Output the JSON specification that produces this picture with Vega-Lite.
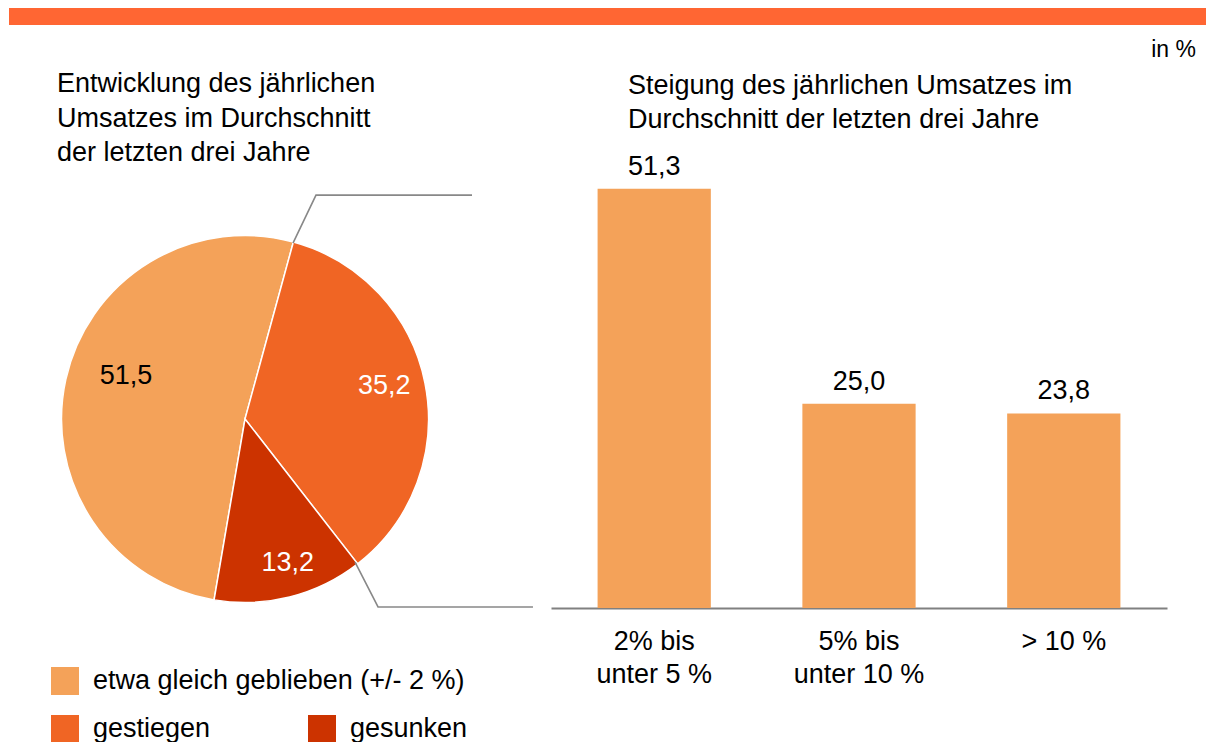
{
  "$schema": "https://vega.github.io/schema/vega-lite/v6.json",
  "background": "white",
  "padding": {"left": 9, "top": 8, "right": 0, "bottom": 0},
  "bounds": "flush",
  "spacing": 140,
  "config": {
    "font": "Liberation Sans",
    "view": {"stroke": null},
    "locale": {"number": {"decimal": ",", "thousands": ".", "grouping": [3], "currency": ["", " €"]}},
    "title": {"fontWeight": "normal", "color": "#000000", "font": "Liberation Sans"},
    "legend": {"labelFont": "Liberation Sans", "labelColor": "#000000"}
  },
  "vconcat": [
    {
      "width": 1197,
      "height": 17,
      "view": {"fill": "#FF6633", "stroke": null},
      "data": {"values": [{}]},
      "mark": {"type": "text", "text": ""},
      "encoding": {},
      "title": {"text": "in %", "orient": "bottom", "anchor": "end", "frame": "group", "offset": 14, "dx": -10, "fontSize": 23}
    },
    {
      "bounds": "flush",
      "spacing": 70,
      "hconcat": [
        {
          "width": 472,
          "height": 508,
          "title": {
            "text": ["Entwicklung des jährlichen", "Umsatzes im Durchschnitt", "der letzten drei Jahre"],
            "anchor": "start", "frame": "group", "dx": 48, "offset": -2, "fontSize": 27, "lineHeight": 34.5
          },
          "data": {"values": [
            {"cat": "etwa gleich geblieben (+/- 2 %)", "pct": 51.5},
            {"cat": "gestiegen", "pct": 35.2},
            {"cat": "gesunken", "pct": 13.2}
          ]},
          "layer": [
            {
              "mark": {"type": "arc", "outerRadius": 183.5, "stroke": "white", "strokeWidth": 1.5},
              "encoding": {
                "theta": {"field": "pct", "type": "quantitative", "stack": true, "scale": {"range": [3.311, 9.594]}},
                "order": {"field": "cat"},
                "color": {
                  "field": "cat", "type": "nominal",
                  "scale": {"domain": ["etwa gleich geblieben (+/- 2 %)", "gestiegen", "gesunken"], "range": ["#F4A259", "#F06524", "#CC3300"]},
                  "legend": {
                    "values": ["etwa gleich geblieben (+/- 2 %)"],
                    "orient": "none", "legendX": 42, "legendY": 659, "title": null,
                    "symbolType": "square", "symbolSize": 784, "symbolStrokeWidth": 0, "symbolOpacity": 1,
                    "labelFontSize": 27, "labelOffset": 14, "labelLimit": 600
                  }
                }
              }
            },
            {
              "transform": [{"filter": "datum.cat !== 'etwa gleich geblieben (+/- 2 %)'"}],
              "mark": {"type": "arc", "opacity": 0},
              "encoding": {
                "theta": {"field": "pct", "type": "quantitative", "stack": true},
                "order": {"field": "cat"},
                "fill": {
                  "field": "cat", "type": "nominal",
                  "scale": {"domain": ["gestiegen", "gesunken"], "range": ["#F06524", "#CC3300"]},
                  "legend": {
                    "orient": "none", "legendX": 42, "legendY": 707, "title": null, "direction": "horizontal",
                    "symbolType": "square", "symbolSize": 784, "symbolStrokeWidth": 0, "symbolOpacity": 1,
                    "labelFontSize": 27, "labelOffset": 14, "labelLimit": 600, "columnPadding": 97
                  }
                }
              }
            },
            {
              "mark": {"type": "text", "radius": 126, "dx": 4, "dy": -16, "fontSize": 27, "color": "#000000"},
              "encoding": {
                "theta": {"field": "pct", "type": "quantitative", "stack": true},
                "order": {"field": "cat"},
                "detail": {"field": "cat"},
                "text": {"condition": {"test": "datum.cat === 'etwa gleich geblieben (+/- 2 %)'", "field": "pct", "type": "quantitative", "format": ".1f"}, "value": ""}
              }
            },
            {
              "mark": {"type": "text", "radius": 143, "dx": -1, "dy": -5, "fontSize": 27, "color": "#FFFFFF"},
              "encoding": {
                "theta": {"field": "pct", "type": "quantitative", "stack": true},
                "order": {"field": "cat"},
                "detail": {"field": "cat"},
                "text": {"condition": {"test": "datum.cat === 'gestiegen'", "field": "pct", "type": "quantitative", "format": ".1f"}, "value": ""}
              }
            },
            {
              "mark": {"type": "text", "radius": 151, "dx": 6, "dy": -2, "fontSize": 27, "color": "#FFFFFF"},
              "encoding": {
                "theta": {"field": "pct", "type": "quantitative", "stack": true},
                "order": {"field": "cat"},
                "detail": {"field": "cat"},
                "text": {"condition": {"test": "datum.cat === 'gesunken'", "field": "pct", "type": "quantitative", "format": ".1f"}, "value": ""}
              }
            },
            {
              "data": {"values": [
                {"seg": "oben", "i": 0, "x": 0.263, "y": 0.964},
                {"seg": "oben", "i": 1, "x": 0.389, "y": 1.227},
                {"seg": "oben", "i": 2, "x": 1.244, "y": 1.227},
                {"seg": "unten", "i": 0, "x": 0.603, "y": -0.784},
                {"seg": "unten", "i": 1, "x": 0.729, "y": -1.03},
                {"seg": "unten", "i": 2, "x": 1.578, "y": -1.03}
              ]},
              "mark": {"type": "line", "color": "#888888", "strokeWidth": 1.6, "clip": false},
              "encoding": {
                "x": {"field": "x", "type": "quantitative", "scale": {"domain": [-1.2932, 1.2932], "nice": false, "zero": false}, "axis": null},
                "y": {"field": "y", "type": "quantitative", "scale": {"domain": [-1.3918, 1.3918], "nice": false, "zero": false}, "axis": null},
                "detail": {"field": "seg"},
                "order": {"field": "i"}
              }
            }
          ]
        },
        {
          "width": 616,
          "height": 443,
          "title": {
            "text": ["Steigung des jährlichen Umsatzes im", "Durchschnitt der letzten drei Jahre"],
            "anchor": "start", "frame": "group", "dx": 77, "offset": 19, "fontSize": 27, "lineHeight": 34
          },
          "data": {"values": [
            {"cat": "2% bis unter 5 %", "pct": 51.3},
            {"cat": "5% bis unter 10 %", "pct": 25.0},
            {"cat": "> 10 %", "pct": 23.8}
          ]},
          "encoding": {
            "x": {
              "field": "cat", "type": "nominal", "sort": null,
              "scale": {"paddingInner": 0.447, "paddingOuter": 0.2275},
              "axis": {
                "title": null, "ticks": false, "grid": false,
                "domainColor": "#808080", "domainWidth": 2,
                "labelFontSize": 27, "labelColor": "#000000", "labelFont": "Liberation Sans",
                "labelPadding": 20, "labelLineHeight": 33, "labelAngle": 0, "labelBaseline": "top", "labelLimit": 400,
                "labelExpr": "indexof(datum.label, ' unter') > 0 ? [substring(datum.label, 0, indexof(datum.label, ' unter')), substring(datum.label, indexof(datum.label, ' unter') + 1)] : datum.label"
              }
            },
            "y": {"field": "pct", "type": "quantitative", "scale": {"domain": [0, 54.2], "nice": false, "zero": true}, "axis": null}
          },
          "layer": [
            {"mark": {"type": "bar", "color": "#F4A259"}},
            {
              "mark": {"type": "text", "baseline": "alphabetic", "dy": -14, "fontSize": 27, "color": "#000000"},
              "encoding": {"text": {"field": "pct", "type": "quantitative", "format": ".1f"}}
            }
          ]
        }
      ]
    }
  ]
}
